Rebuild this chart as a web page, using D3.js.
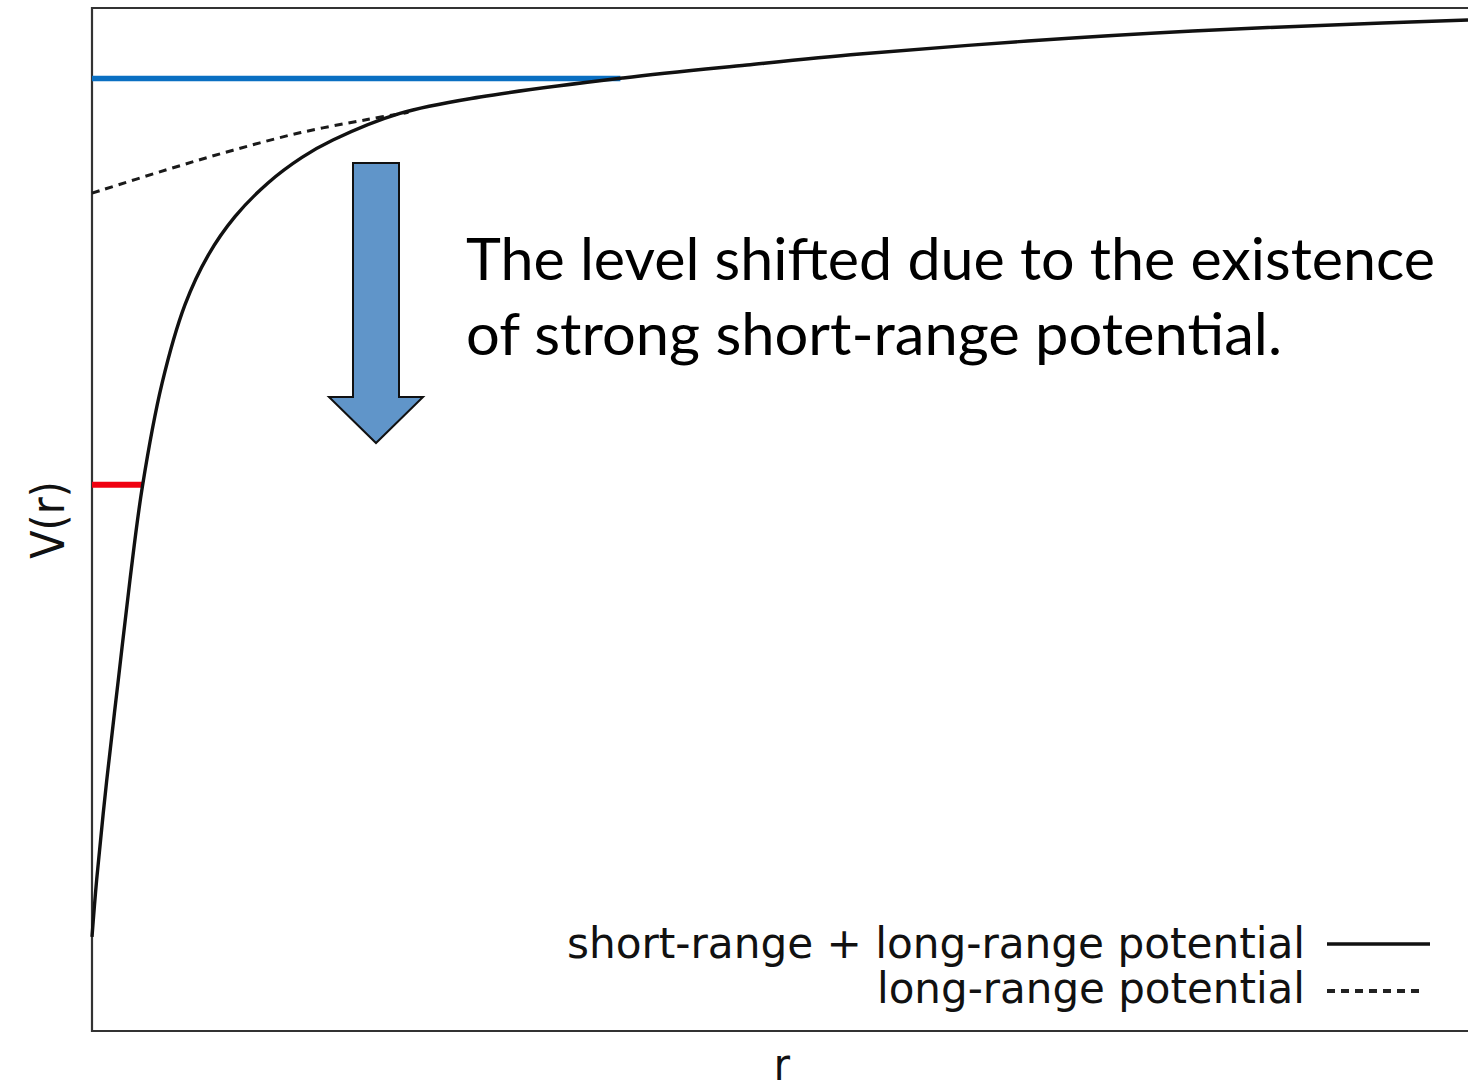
<!DOCTYPE html>
<html>
<head>
<meta charset="utf-8">
<script src="https://cdn.jsdelivr.net/npm/d3@7"></script>
<style>
  html, body { margin: 0; padding: 0; background: #fff; }
  svg { display: block; }
</style>
</head>
<body>
<svg id="chart" width="1468" height="1091"></svg>
<script>
// short-range + long-range potential (solid)
var rSolid = [0, 0.034, 0.107, 0.191, 0.276, 0.366, 0.509, 0.676, 0.843, 1.039, 1.279, 1.526, 1.751, 2.238, 2.82, 3.86, 4.76, 5.58, 6.8, 8.0, 9.38, 10];
var vSolid = [-9.08, -8.52, -7.55, -6.57, -5.59, -4.68, -3.67, -2.90, -2.42, -2.04, -1.71, -1.46, -1.29, -1.03, -0.87, -0.684, -0.557, -0.45, -0.323, -0.225, -0.147, -0.117];

// long-range potential only (dotted)
var rLong = [0, 0.545, 1.025, 1.51, 2.0, 2.3];
var vLong = [-1.81, -1.58, -1.39, -1.22, -1.09, -1.02];

// energy levels
var levelLong = {v: -0.69, rEnd: 3.84};
var levelShort = {v: -4.66, rEnd: 0.37};

var legendLabels = ["short-range + long-range potential", "long-range potential"];
var noteLines = ["The level shifted due to the existence", "of strong short-range potential."];

var svg = d3.select("#chart");

var plotL = 92, plotT = 8, plotB = 1031, plotR = 1468;

var x = d3.scaleLinear().domain([0, 10]).range([plotL, plotR]);
var y = d3.scaleLinear().domain([-10, 0]).range([plotB, plotT]);

var line = d3.line()
  .x(function(d) { return x(d[0]); })
  .y(function(d) { return y(d[1]); })
  .curve(d3.curveCatmullRom.alpha(0.5));

// frame (right side runs off the picture)
svg.append("path")
  .attr("d", "M" + (plotR + 5) + "," + plotT + "H" + plotL + "V" + plotB + "H" + (plotR + 5))
  .attr("fill", "none")
  .attr("stroke", "#333")
  .attr("stroke-width", 2.2);

// levels
svg.append("line")
  .attr("x1", x(0)).attr("x2", x(levelLong.rEnd))
  .attr("y1", y(levelLong.v)).attr("y2", y(levelLong.v))
  .attr("stroke", "#0a6fc2").attr("stroke-width", 5.5);

svg.append("line")
  .attr("x1", x(0)).attr("x2", x(levelShort.rEnd))
  .attr("y1", y(levelShort.v)).attr("y2", y(levelShort.v))
  .attr("stroke", "#f00010").attr("stroke-width", 6);

// dotted long-range curve
svg.append("path")
  .datum(d3.zip(rLong, vLong))
  .attr("d", line)
  .attr("fill", "none")
  .attr("stroke", "#1a1a1a")
  .attr("stroke-width", 3)
  .attr("stroke-dasharray", "8,6");

// solid curve
svg.append("path")
  .datum(d3.zip(rSolid, vSolid))
  .attr("d", line)
  .attr("fill", "none")
  .attr("stroke", "#111")
  .attr("stroke-width", 3.4);

// down arrow
var ax = 376, aTop = 163, aNeck = 397, aTip = 443, shaftW = 46, headW = 94;
svg.append("path")
  .attr("d", d3.line()([
    [ax - shaftW / 2, aTop], [ax + shaftW / 2, aTop], [ax + shaftW / 2, aNeck],
    [ax + headW / 2, aNeck], [ax, aTip], [ax - headW / 2, aNeck],
    [ax - shaftW / 2, aNeck]
  ]) + "Z")
  .attr("fill", "#6095c9")
  .attr("stroke", "#111")
  .attr("stroke-width", 2);

// annotation
var note = svg.append("g")
  .attr("font-family", "Lato, 'Open Sans', sans-serif")
  .attr("font-size", 58)
  .attr("fill", "#000");
note.append("text").attr("x", 466).attr("y", 280)
  .attr("textLength", 969).attr("lengthAdjust", "spacingAndGlyphs")
  .text(noteLines[0]);
note.append("text").attr("x", 466).attr("y", 355)
  .attr("textLength", 816).attr("lengthAdjust", "spacingAndGlyphs")
  .text(noteLines[1]);

// legend
var leg = svg.append("g")
  .attr("font-family", "'DejaVu Sans Condensed', 'DejaVu Sans', sans-serif")
  .attr("font-size", 42)
  .attr("fill", "#111")
  .attr("text-anchor", "end");
leg.append("text").attr("x", 1305).attr("y", 958)
  .attr("textLength", 738).attr("lengthAdjust", "spacingAndGlyphs")
  .text(legendLabels[0]);
leg.append("text").attr("x", 1305).attr("y", 1003)
  .attr("textLength", 428).attr("lengthAdjust", "spacingAndGlyphs")
  .text(legendLabels[1]);
svg.append("line")
  .attr("x1", 1327).attr("x2", 1430).attr("y1", 944).attr("y2", 944)
  .attr("stroke", "#111").attr("stroke-width", 3.5);
svg.append("line")
  .attr("x1", 1327).attr("x2", 1425).attr("y1", 991).attr("y2", 991)
  .attr("stroke", "#222").attr("stroke-width", 4)
  .attr("stroke-dasharray", "8,6");

// axis labels
svg.append("text")
  .attr("x", 782).attr("y", 1080)
  .attr("text-anchor", "middle")
  .attr("font-family", "'DejaVu Sans Condensed', 'DejaVu Sans', sans-serif")
  .attr("font-size", 44)
  .attr("fill", "#111")
  .text("r");

svg.append("text")
  .attr("transform", "translate(64,520) rotate(-90)")
  .attr("text-anchor", "middle")
  .attr("font-family", "'DejaVu Sans Condensed', 'DejaVu Sans', sans-serif")
  .attr("font-size", 46)
  .attr("fill", "#111")
  .text("V(r)");
</script>
</body>
</html>
